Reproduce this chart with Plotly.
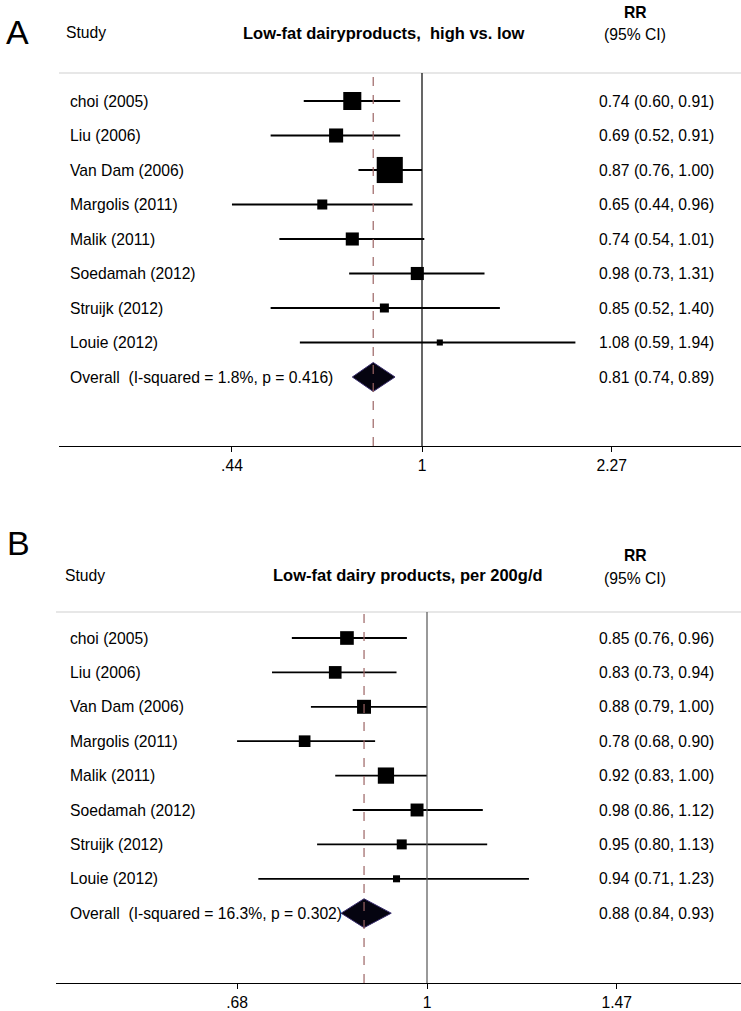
import numpy as np
import plotly.graph_objects as go

# ---------------- data ----------------
studies = ["choi (2005)", "Liu (2006)", "Van Dam (2006)", "Margolis (2011)",
           "Malik (2011)", "Soedamah (2012)", "Struijk (2012)", "Louie (2012)"]

# Panel A: low-fat dairy products, high vs. low
rr_a = [0.74, 0.69, 0.87, 0.65, 0.74, 0.98, 0.85, 1.08]
lo_a = [0.60, 0.52, 0.76, 0.44, 0.54, 0.73, 0.52, 0.59]
hi_a = [0.91, 0.91, 1.00, 0.96, 1.01, 1.31, 1.40, 1.94]
wt_a = [18.5, 11.2, 38.6, 5.7, 9.7, 9.7, 4.6, 2.1]      # % weight (box area)
overall_a = [0.81, 0.74, 0.89]
overall_lbl_a = "Overall  (I-squared = 1.8%, p = 0.416)"
ticks_a = [0.44, 1, 2.27]
ticktext_a = [".44", "1", "2.27"]
title_a = "Low-fat dairyproducts,  high vs. low"

# Panel B: low-fat dairy products, per 200 g/d
rr_b = [0.85, 0.83, 0.88, 0.78, 0.92, 0.98, 0.95, 0.94]
lo_b = [0.76, 0.73, 0.79, 0.68, 0.83, 0.86, 0.80, 0.71]
hi_b = [0.96, 0.94, 1.00, 0.90, 1.00, 1.12, 1.13, 1.23]
wt_b = [14.8, 12.7, 15.5, 10.8, 21.0, 13.3, 7.9, 3.9]
overall_b = [0.88, 0.84, 0.93]
overall_lbl_b = "Overall  (I-squared = 16.3%, p = 0.302)"
ticks_b = [0.68, 1, 1.47]
ticktext_b = [".68", "1", "1.47"]
title_b = "Low-fat dairy products, per 200g/d"

# ---------------- layout helpers ----------------
W, H = 741, 1011
FONT = "Liberation Sans, Arial, Helvetica, sans-serif"
FS = 15.7


def px_x(p):
    return p / W


def px_y(p):
    return 1 - p / H


fig = go.Figure()


def add_panel(fig, n, letter, title, rr, lo, hi, wt, overall, overall_lbl,
              ticks, ticktext, geo):
    xa = "x" if n == 1 else "x%d" % n
    ya = "y" if n == 1 else "y%d" % n
    xkey = "xaxis" if n == 1 else "xaxis%d" % n
    ykey = "yaxis" if n == 1 else "yaxis%d" % n
    rows = list(range(len(rr)))
    nrow = len(rr)

    # study estimates with CIs
    sizes = np.sqrt(np.array(wt)) * geo["box"]
    fig.add_trace(go.Scatter(
        x=rr, y=rows, mode="markers", xaxis=xa, yaxis=ya,
        marker=dict(symbol="square", size=sizes, color="black", opacity=1,
                    line=dict(width=0)),
        error_x=dict(type="data", symmetric=False,
                     array=[h - r for h, r in zip(hi, rr)],
                     arrayminus=[r - l for r, l in zip(rr, lo)],
                     width=0, thickness=1.8, color="black"),
        hoverinfo="skip"))

    # pooled diamond
    est, olo, ohi = overall
    dh = 0.42
    fig.add_trace(go.Scatter(
        x=[olo, est, ohi, est, olo], y=[nrow, nrow - dh, nrow, nrow + dh, nrow],
        mode="lines", fill="toself", fillcolor="#050410",
        line=dict(color="#3a2e6e", width=1), xaxis=xa, yaxis=ya,
        hoverinfo="skip"))

    # axes
    x0p, x1p, one_px, k = geo["x0"], W, geo["one"], geo["k"]
    fig.layout[xkey] = dict(
        type="log", domain=[px_x(x0p), 1],
        range=[(x0p - one_px) / k, (x1p - one_px) / k],
        anchor=ya, showline=True, linecolor="black", linewidth=1,
        ticks="outside", ticklen=5, tickcolor="black",
        tickvals=ticks, ticktext=ticktext,
        tickfont=dict(family=FONT, size=FS, color="black"),
        showgrid=False, zeroline=False, fixedrange=True)
    top, bot, r0, step = geo["top"], geo["bot"], geo["r0"], geo["step"]
    fig.layout[ykey] = dict(
        domain=[px_y(bot), px_y(top)],
        range=[(bot - r0) / step, (top - r0) / step],
        visible=False, fixedrange=True)

    # header separator, null line, pooled-estimate line
    fig.add_shape(type="line", xref=xa + " domain", yref=ya + " domain",
                  x0=0, x1=1, y0=1, y1=1, line=dict(color="#cfcfcf", width=1))
    fig.add_shape(type="line", xref=xa, yref=ya + " domain",
                  x0=1, x1=1, y0=0, y1=1, line=dict(color=geo["nullc"], width=1.2))
    fig.add_shape(type="line", xref=xa, yref=ya + " domain",
                  x0=est, x1=est, y0=0, y1=1,
                  line=dict(color="#9c6464", width=1.2, dash="dash"))

    # row text
    labels = studies + [overall_lbl]
    values = ["%.2f (%.2f, %.2f)" % t for t in zip(rr, lo, hi)] + \
             ["%.2f (%.2f, %.2f)" % tuple(overall)]
    for i, (lab, val) in enumerate(zip(labels, values)):
        fig.add_annotation(x=px_x(68), xref="paper", y=i, yref=ya,
                           text=lab, showarrow=False, xanchor="left",
                           yanchor="middle",
                           font=dict(family=FONT, size=FS, color="black"))
        fig.add_annotation(x=px_x(597), xref="paper", y=i, yref=ya,
                           text=val, showarrow=False, xanchor="left",
                           yanchor="middle",
                           font=dict(family=FONT, size=FS, color="black"))

    # headers
    hd = geo["hdr"]

    def head(key, text, anchor, size, bold=False):
        fig.add_annotation(x=px_x(hd[key][0]), y=px_y(hd[key][1]),
                           xref="paper", yref="paper",
                           text="<b>%s</b>" % text if bold else text,
                           showarrow=False, xanchor=anchor, yanchor="middle",
                           font=dict(family=FONT, size=size, color="black"))

    head("letter", letter, "left", 34)
    head("study", "Study", "left", FS)
    head("title", title, "center", 16.5, bold=True)
    head("rr", "RR", "center", FS, bold=True)
    head("ci", "(95% CI)", "center", FS)


geo_a = dict(x0=59, one=422, k=533, top=73, bot=446, r0=101, step=34.5,
             box=4.2, nullc="black",
             hdr=dict(letter=(4, 32), study=(64, 32), title=(384, 33),
                      rr=(635, 13), ci=(635, 34)))
geo_b = dict(x0=56, one=427, k=1134, top=612, bot=983, r0=638, step=34.4,
             box=3.55, nullc="#555555",
             hdr=dict(letter=(5, 543), study=(63, 575), title=(408, 575),
                      rr=(635, 555), ci=(635, 578)))

add_panel(fig, 1, "A", title_a, rr_a, lo_a, hi_a, wt_a, overall_a, overall_lbl_a,
          ticks_a, ticktext_a, geo_a)
add_panel(fig, 2, "B", title_b, rr_b, lo_b, hi_b, wt_b, overall_b, overall_lbl_b,
          ticks_b, ticktext_b, geo_b)

fig.update_layout(width=W, height=H, margin=dict(l=0, r=0, t=0, b=0),
                  paper_bgcolor="white", plot_bgcolor="white", showlegend=False)

# drop the browser's default body margin so the figure sits at the page origin
fig.write_html("out.html", config={"displayModeBar": False},
               post_script="document.body.style.margin='0';")
